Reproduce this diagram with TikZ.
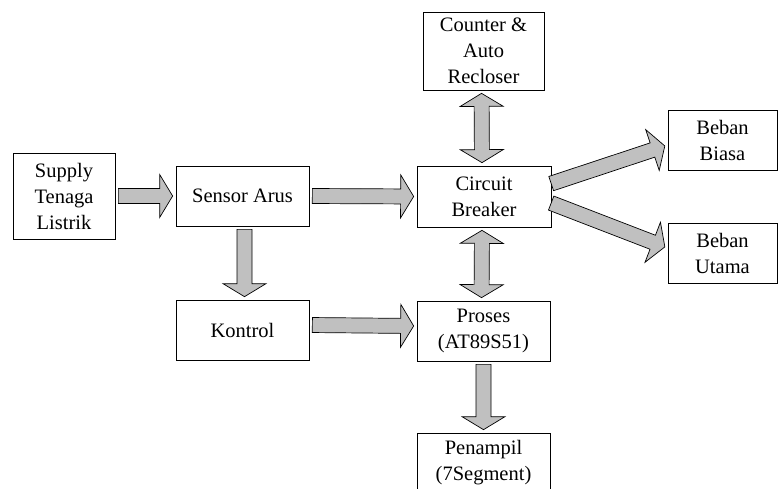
\documentclass[tikz,border=0pt]{standalone}
\usepackage{fontspec}
\setmainfont{Liberation Serif}
\usetikzlibrary{calc}
\definecolor{arrowgray}{HTML}{C0C0C0}
% end points of a block arrow, 3pt off the nodes
\newcommand{\baends}[2]{%
	\edef\batmp{\noexpand\coordinate (ba-a) at (#1); \noexpand\coordinate (ba-b) at (#2);}\batmp
	\coordinate (ba-s) at ($(ba-a)!3pt!(ba-b)$); \coordinate (ba-e) at ($(ba-b)!3pt!(ba-a)$);%
}
% single block arrow from #1 to #2
\newcommand{\blockarrow}[2]{%
	\baends{#1}{#2}
	\coordinate (ba-h) at ($(ba-e)!13pt!(ba-s)$);
	\draw [blockarrow] ($(ba-s)!7.5pt!90:(ba-e)$) -- ($(ba-h)!7.5pt!-90:(ba-s)$) -- ($(ba-h)!21.5pt!-90:(ba-s)$) -- (ba-e) -- ($(ba-h)!21.5pt!90:(ba-s)$) -- ($(ba-h)!7.5pt!90:(ba-s)$) -- ($(ba-s)!7.5pt!-90:(ba-e)$) -- cycle;%
}
% double block arrow between #1 and #2
\newcommand{\dblockarrow}[2]{%
	\baends{#1}{#2}
	\coordinate (ba-h1) at ($(ba-s)!13pt!(ba-e)$); \coordinate (ba-h2) at ($(ba-e)!13pt!(ba-s)$);
	\draw [blockarrow] (ba-s) -- ($(ba-h1)!21.5pt!90:(ba-e)$) -- ($(ba-h1)!7.5pt!90:(ba-e)$) -- ($(ba-h2)!7.5pt!-90:(ba-s)$) -- ($(ba-h2)!21.5pt!-90:(ba-s)$) -- (ba-e) -- ($(ba-h2)!21.5pt!90:(ba-s)$) -- ($(ba-h2)!7.5pt!90:(ba-s)$) -- ($(ba-h1)!7.5pt!-90:(ba-e)$) -- ($(ba-h1)!21.5pt!-90:(ba-e)$) -- cycle;%
}

\begin{document}
\begin{tikzpicture}[x=1pt,y=-1pt,font=\fontsize{20.5}{26}\selectfont,
		box/.style= {draw,line width=0.7pt,align=center,inner sep=0pt,minimum width=133pt,minimum height=60pt},
		blockarrow/.style= {draw=black,fill=arrowgray,line width=0.7pt,line join=miter}]
		\useasboundingbox (0,0) rectangle (778,488);
		\node [box,minimum width=102pt,minimum height=86pt] (supply) at (64,196) {Supply\\Tenaga\\Listrik};
		\node [box] (sensor) at (242.5,196) {Sensor Arus};
		\node [box,minimum width=134pt,minimum height=61pt] (cb) at (484,196.5) {Circuit\\Breaker};
		\node [box,minimum width=121pt,minimum height=78pt] (counter) at (483.5,51) {Counter \&\\Auto\\Recloser};
		\node [box] (kontrol) at (242.5,330) {Kontrol};
		\node [box] (proses) at (483.5,331) {Proses\\(AT89S51)};
		\node [box] (penampil) at (483.5,463) {Penampil\\(7Segment)};
		\node [box,minimum width=109pt] (biasa) at (722.5,140) {Beban\\Biasa};
		\node [box,minimum width=109pt] (utama) at (722.5,253) {Beban\\Utama};
		\foreach \A/\B in {supply.east/sensor.west,sensor.east/cb.west,[xshift=2pt]sensor.south/[xshift=2pt]kontrol.north,[yshift=5pt]kontrol.east/[yshift=5pt]proses.west,proses.south/penampil.north} {
			\blockarrow{\A}{\B}
		}
		\blockarrow{[xshift=-3pt,yshift=12pt]cb.east}{[yshift=-5pt]biasa.west}
		\blockarrow{[xshift=-3pt,yshift=-5.5pt]cb.east}{[yshift=5pt]utama.west}
		\dblockarrow{[xshift=-2pt]counter.south}{[xshift=-2pt]cb.north}
		\dblockarrow{[xshift=-2pt]cb.south}{[xshift=-2pt]proses.north}
	\end{tikzpicture}
\end{document}
